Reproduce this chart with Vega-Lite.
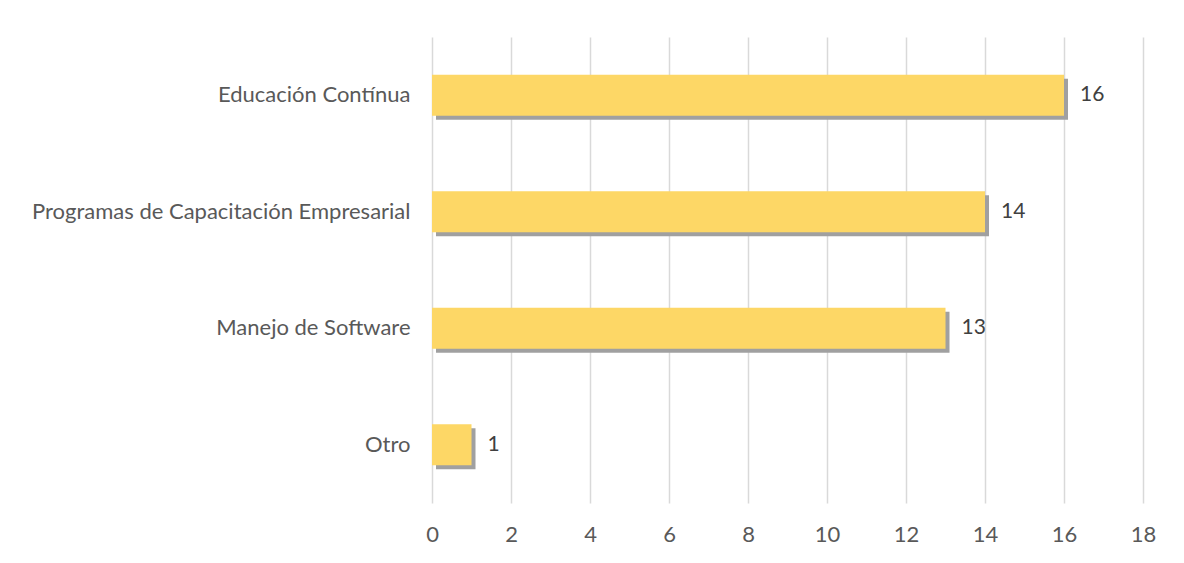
{
  "$schema": "https://vega.github.io/schema/vega-lite/v6.json",
  "width": 711,
  "height": 466,
  "autosize": {"type": "none"},
  "padding": {"left": 432, "top": 37, "right": 41, "bottom": 60},
  "background": "white",
  "config": {
    "view": {"stroke": null},
    "font": "Lato",
    "axis": {"labelFont": "Lato", "labelFontSize": 22, "labelColor": "#595959"}
  },
  "data": {
    "values": [
      {"categoria": "Educación Contínua", "valor": 16},
      {"categoria": "Programas de Capacitación Empresarial", "valor": 14},
      {"categoria": "Manejo de Software", "valor": 13},
      {"categoria": "Otro", "valor": 1}
    ]
  },
  "encoding": {
    "y": {
      "field": "categoria",
      "type": "nominal",
      "sort": null,
      "title": null,
      "scale": {"paddingInner": 0.65, "paddingOuter": 0.325},
      "axis": {"ticks": false, "domain": false, "labelPadding": 22, "grid": false, "labelLimit": 430}
    },
    "x": {
      "field": "valor",
      "type": "quantitative",
      "title": null,
      "scale": {"domain": [0, 18], "nice": false},
      "axis": {
        "values": [0, 2, 4, 6, 8, 10, 12, 14, 16, 18],
        "ticks": false,
        "domain": false,
        "labelPadding": 21,
        "labelFlush": false,
        "grid": true,
        "gridColor": "#d9d9d9",
        "gridWidth": 1.5
      }
    }
  },
  "layer": [
    {
      "mark": {"type": "bar", "color": "#a0a0a0", "xOffset": 4, "x2Offset": 4, "yOffset": 4, "y2Offset": 4},
      "encoding": {}
    },
    {
      "mark": {"type": "bar", "color": "#FDD766"},
      "encoding": {}
    },
    {
      "mark": {"type": "text", "align": "left", "baseline": "middle", "dx": 16, "fontSize": 21, "color": "#404040", "font": "Lato"},
      "encoding": {"text": {"field": "valor", "type": "quantitative"}}
    }
  ]
}
